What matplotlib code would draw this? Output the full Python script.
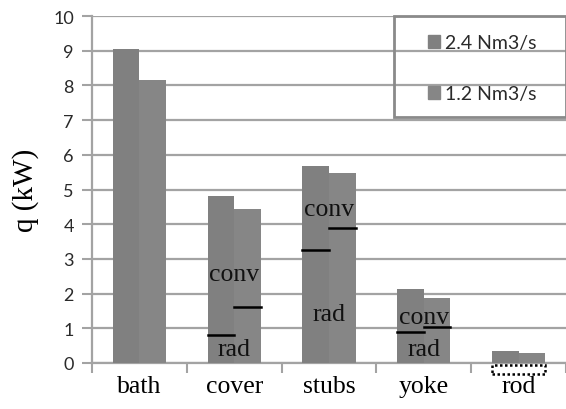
import matplotlib
matplotlib.use("Agg")
import matplotlib.pyplot as plt
from matplotlib.patches import Rectangle, Patch
import numpy as np

categories = ["bath", "cover", "stubs", "yoke", "rod"]
series_names = ["2.4 Nm3/s", "1.2 Nm3/s"]
q_high = [9.05, 4.80, 5.68, 2.12, 0.35]
q_low = [8.15, 4.45, 5.47, 1.87, 0.30]
# radiative part marker (black line) per bar; None = no split
rad_high = [None, 0.80, 3.27, 0.90, None]
rad_low = [None, 1.60, 3.90, 1.05, None]
yticks = list(range(0, 11))

bar_colors = ["#808080", "#868686"]
grid_color = "#a3a3a3"

fig = plt.figure(figsize=(5.66, 4.10), dpi=100)
ax = fig.add_axes([92/566, 1 - 364/410, 474/566, (364 - 17)/410])

x = np.arange(len(categories))
w = 0.28
ax.bar(x - w/2, q_high, width=w, color=bar_colors[0], zorder=3)
ax.bar(x + w/2, q_low, width=w, color=bar_colors[1], zorder=3)

for i in range(len(categories)):
    if rad_high[i] is not None:
        ax.plot([x[i] - w, x[i]], [rad_high[i]] * 2, color="black", lw=1.8, zorder=4)
    if rad_low[i] is not None:
        ax.plot([x[i], x[i] + w], [rad_low[i]] * 2, color="black", lw=1.8, zorder=4)

# labels inside bars
serif = "Liberation Serif"
conv_y = {1: 2.56, 2: 4.44, 3: 1.33}
rad_y = {1: 0.40, 2: 1.41, 3: 0.40}
for i, yy in conv_y.items():
    ax.text(x[i], yy, "conv", ha="center", va="center", fontsize=18.5, family=serif,
            color="#111111", zorder=5)
for i, yy in rad_y.items():
    ax.text(x[i], yy, "rad", ha="center", va="center", fontsize=18.5, family=serif,
            color="#111111", zorder=5)

# dotted box below rod (negative region)
ax.add_patch(Rectangle((x[4] - w, -0.32), 2 * w, 0.26, fill=False, edgecolor="black",
                       linestyle=(0, (1, 1)), lw=1.8, clip_on=False, zorder=4))

ax.set_xlim(-0.5, 4.5)
ax.set_ylim(0, 10)
ax.set_yticks(yticks)
ax.set_yticklabels([str(t) for t in yticks], family="Lato", fontsize=13, color="#2a2a2a")
ax.set_xticks(x)
ax.set_xticklabels(categories, family=serif, fontsize=18.5)
ax.set_xticks(np.arange(-0.5, 5, 1), minor=True)
ax.tick_params(axis="x", which="major", length=0, pad=9)
ax.tick_params(axis="x", which="minor", length=7, width=1.5, color=grid_color)
ax.tick_params(axis="y", length=7, width=1.5, color=grid_color, pad=6)
ax.set_ylabel("q (kW)", family=serif, fontsize=21, labelpad=10)

ax.grid(axis="y", color=grid_color, lw=1.6, zorder=1)
for s in ["top", "right"]:
    ax.spines[s].set_visible(False)
for s in ["left", "bottom"]:
    ax.spines[s].set_color(grid_color)
    ax.spines[s].set_linewidth(1.6)

# legend frame
ax.add_patch(Rectangle((0.637, 0.709), 0.363, 0.291, transform=ax.transAxes, fill=False,
                       edgecolor="#8a8a8a", lw=2, clip_on=False, zorder=5))
handles = [Patch(color=bar_colors[0]), Patch(color=bar_colors[1])]
leg = ax.legend(handles, series_names, loc="center", bbox_to_anchor=(0.637 + 0.363/2 + 0.005, 0.709 + 0.291/2 - 0.005),
                frameon=False, prop={"family": "Lato", "size": 14}, handlelength=0.6,
                handleheight=0.6, handletextpad=0.3, labelspacing=1.75)
for t in leg.get_texts():
    t.set_color("#2a2a2a")

fig.savefig("out.png", dpi=100)
